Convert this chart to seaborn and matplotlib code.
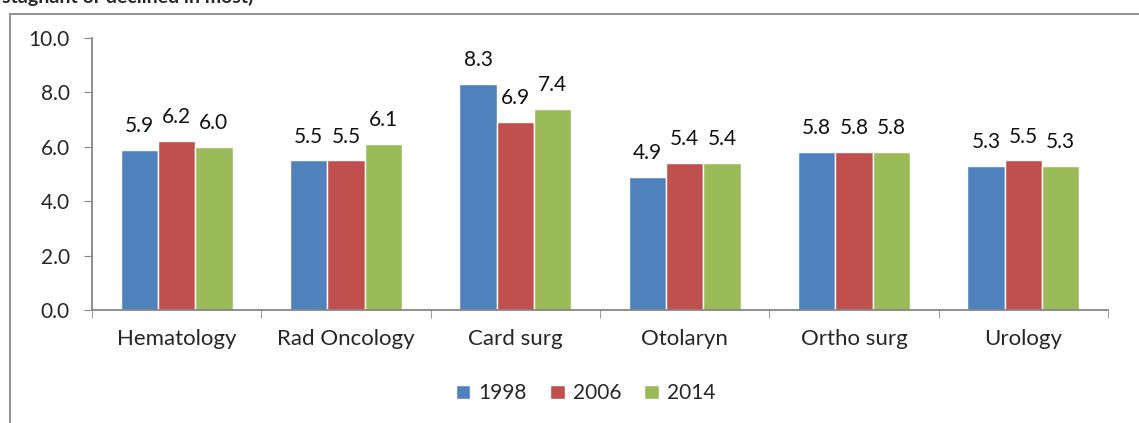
import pandas as pd
import seaborn as sns
import matplotlib.pyplot as plt
from matplotlib.lines import Line2D

specialties = ["Hematology", "Rad Oncology", "Card surg", "Otolaryn", "Ortho surg", "Urology"]
years = ["1998", "2006", "2014"]
v1998 = [5.9, 5.5, 8.3, 4.9, 5.8, 5.3]
v2006 = [6.2, 5.5, 6.9, 5.4, 5.8, 5.5]
v2014 = [6.0, 6.1, 7.4, 5.4, 5.8, 5.3]

paleta = ["#4F81BD", "#C0504D", "#9BBB59"]

df = pd.DataFrame({"specialty": specialties * 3,
                   "year": [y for y in years for _ in specialties],
                   "value": v1998 + v2006 + v2014})

sns.set_style("white")
plt.rcParams['font.family'] = ['Lato', 'DejaVu Sans']

fig = plt.figure(figsize=(11.39, 4.23), dpi=100)
ax = fig.add_axes([92/1139, 1 - 310/423, (1108-92)/1139, (310-38)/423])

sns.barplot(data=df, x="specialty", y="value", hue="year", palette=paleta,
            width=0.66, saturation=1, ax=ax, order=specialties, hue_order=years)

for c in ax.containers:
    ax.bar_label(c, fmt='%.1f', padding=10, fontsize=15, color="#111111")

ax.set_ylim(0, 10)
ax.set_xlim(-0.5, 5.5)
ax.set_yticks([0, 2, 4, 6, 8, 10])
ax.set_yticklabels([f"{t:.1f}" for t in [0, 2, 4, 6, 8, 10]], fontsize=15)
ax.tick_params(axis='y', length=6, color="#868686", direction='out', left=True, pad=10)
ax.tick_params(axis='x', which='major', length=0, labelsize=16, pad=14)
ax.set_xticks([i - 0.5 for i in range(7)], minor=True)
ax.tick_params(axis='x', which='minor', length=6, color="#868686", direction='out', bottom=True)
ax.set_xlabel("")
ax.set_ylabel("")
for s in ["top", "right"]:
    ax.spines[s].set_visible(False)
for s in ["left", "bottom"]:
    ax.spines[s].set_color("#868686")
    ax.spines[s].set_linewidth(1.3)

ax.legend(loc="upper center", bbox_to_anchor=(0.486, -0.2), ncol=3, frameon=False,
          fontsize=15, handlelength=0.7, handleheight=0.7, columnspacing=1.1,
          handletextpad=0.4)

# outer chart frame (partly outside the image)
fig.add_artist(Line2D([10/1139, 10/1139], [0, 1 - 14/423], color="#888888", lw=1.3))
fig.add_artist(Line2D([10/1139, 1], [1 - 14/423, 1 - 14/423], color="#888888", lw=1.3))

# clipped title line at the very top
fig.text(2/1139, 1 + 3/423, "stagnant or declined in most)", fontsize=14,
         fontweight='bold', va='center', ha='left')

fig.savefig("out.png", dpi=100)
